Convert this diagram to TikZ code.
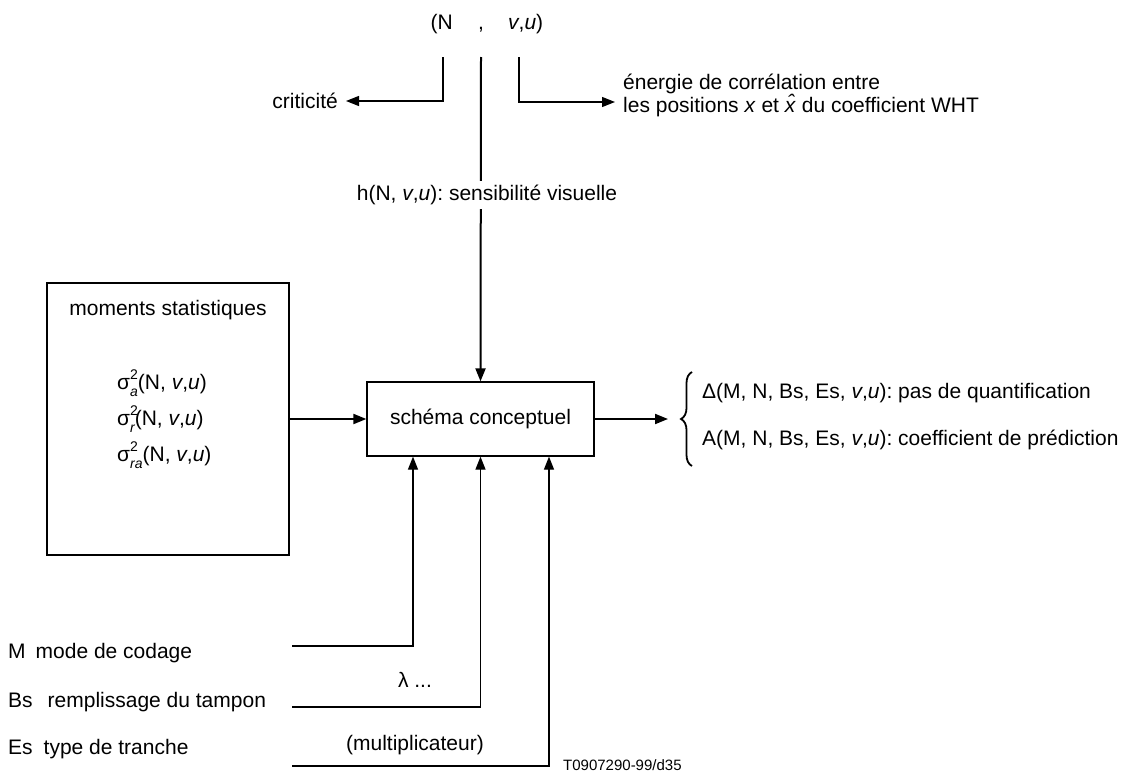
\documentclass[tikz,border=0pt]{standalone}
\usepackage{fontspec}
\setmainfont{Liberation Sans}
\usetikzlibrary{arrows.meta,decorations.pathreplacing}
\newcommand\sigl[1]{σ\makebox[0pt][l]{\raisebox{0.5em}{\fontsize{14}{14}\selectfont 2}}\raisebox{-0.3em}{\fontsize{14}{14}\selectfont\itshape #1}}
\newcommand\xhatit{\textit{\rlap{\kern0.12em\raisebox{0.12em}{ˆ}}x}}
\frenchspacing
\begin{document}
\begin{tikzpicture}[x=1pt,y=-1pt,
  txt/.style={inner sep=0pt,font=\fontsize{21}{23}\selectfont},
  small/.style={inner sep=0pt,font=\fontsize{15}{17}\selectfont},
  thickline/.style={line width=2pt},
  thinline/.style={line width=1.3pt},
  arr/.style={-{Triangle[length=13pt,width=10pt]}},
  boxst/.style={draw,line width=1.3pt,inner sep=0pt}]
\useasboundingbox (0,0) rectangle (1132,771);

% top label
\node[txt,anchor=base east] (pN) at (453,29) {(N};
\node[txt,anchor=base] (pc) at (481,29) {,};
\node[txt,anchor=base west] (pvu) at (508,29) {\textit{v},\textit{u})};
\coordinate (t1) at (443,57);
\coordinate (t2) at (481,57);
\coordinate (t3) at (519,57);

% side labels at top
\node[txt,anchor=east] (crit) at (338,101) {criticité};
\node[txt,anchor=west,align=left] (ener) at (623,95) {énergie de corrélation entre\\les positions \textit{x} et \xhatit{} du coefficient WHT};
\coordinate (enerin) at (615,102);

% boxes
\node[boxst,minimum width=227pt,minimum height=74pt] (schema) at (480.5,419) {};
\node[txt] at (schema.center) {schéma conceptuel};
\node[boxst,minimum width=242pt,minimum height=272pt] (mom) at (168,419) {};
\node[txt] (momt) at (168,310) {moments statistiques};
\node[txt,anchor=west] (s1) at (117,383) {\sigl{a}(N, \textit{v},\textit{u})};
\node[txt,anchor=west] (s2) at (117,419) {\sigl{r}(N, \textit{v},\textit{u})};
\node[txt,anchor=west] (s3) at (117,455) {\sigl{ra}(N, \textit{v},\textit{u})};

% connectors from top
\draw[thinline,arr] (t1) -- (443,101) -- ([xshift=8pt]crit.east);
\draw[thinline,arr] (t3) -- (519,102) -- (enerin);
\draw[thickline,arr] (t2) -- (schema.north);
\node[txt,fill=white,inner xsep=1pt,inner ysep=4pt] (hN) at (487,195) {h(N, \textit{v},\textit{u}): sensibilité visuelle};

% left to box, box to output
\draw[thickline,arr] (mom.east) -- (schema.west);
\coordinate (outtip) at (668,419);
\draw[thickline,arr] (schema.east) -- (outtip);
\coordinate (brb) at (692,466);
\coordinate (brt) at (692,372);
\draw[line width=1.8pt,decorate,decoration={brace,amplitude=11pt}] (brb) -- (brt);
\node[txt,anchor=west] (d1) at (702,393) {Δ(M, N, Bs, Es, \textit{v},\textit{u}): pas de quantification};
\node[txt,anchor=west] (d2) at (702,440) {A(M, N, Bs, Es, \textit{v},\textit{u}): coefficient de prédiction};

% bottom inputs
\node[txt,anchor=west] (lM) at (8,653) {M\hspace{10pt}mode de codage};
\node[txt,anchor=west] (lB) at (8,702) {Bs\hspace{15pt}remplissage du tampon};
\node[txt,anchor=west] (lE) at (8,749) {Es\hspace{11pt}type de tranche};
\coordinate (m1) at (292,646);
\coordinate (m2) at (292,707);
\coordinate (m3) at (292,766);
\draw[thinline,arr] (m1) -| ([xshift=-67.5pt]schema.south);
\draw[thinline,arr] (m2) -| (schema.south);
\draw[thinline,arr] (m3) -| ([xshift=68.5pt]schema.south);
\node[txt] (lam) at (415,680) {λ ...};
\node[txt] (mult) at (415,745) {(multiplicateur)};
\node[small,anchor=base west] (ref) at (563,770) {T0907290-99/d35};
\end{tikzpicture}
\end{document}
